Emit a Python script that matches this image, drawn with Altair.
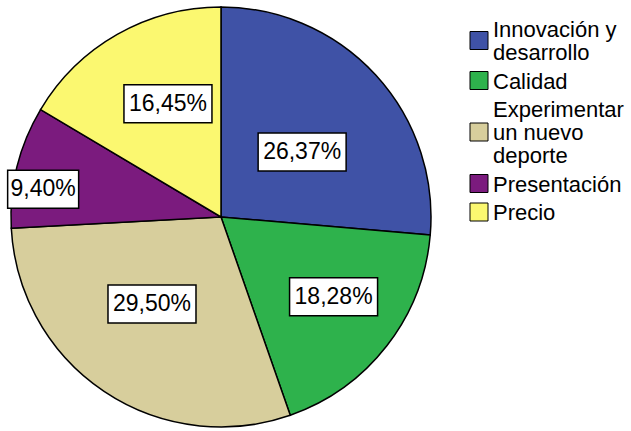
import altair as alt
import pandas as pd

categories = ["Innovación y desarrollo", "Calidad", "Experimentar un nuevo deporte", "Presentación", "Precio"]
legend_lines = [["Innovación y", "desarrollo"], ["Calidad"], ["Experimentar", "un nuevo", "deporte"], ["Presentación"], ["Precio"]]
percent = [26.37, 18.28, 29.50, 9.40, 16.45]
labels = ["26,37%", "18,28%", "29,50%", "9,40%", "16,45%"]
colors = ["#3f52a6", "#2eb24c", "#d7ce9c", "#7b1b7e", "#fbf870"]

# layout (not data): label placement relative to each slice's mid-angle
label_radius = [104, 138, 111, 180, 125]
label_angle_shift = [3.8, -2.5, 4.6, -5.0, 4.5]
CX, CY, R = 221, 217, 210
W, H = 2 * CX, 2 * CY
FONT = "Liberation Sans"
LEG_X, LEG_Y, LEG_LH, LEG_GAP = 470, 37, 23, 5.5

df = pd.DataFrame({
    "cat": categories,
    "pct": percent,
    "label": labels,
    "order": list(range(len(categories))),
    "lr": label_radius,
    "la": label_angle_shift,
    "legtext": ["\n".join(l) for l in legend_lines],
    "nlines": [len(l) for l in legend_lines],
})

color_scale = alt.Scale(domain=categories, range=colors)
base = alt.Chart(df)

pie = base.mark_arc(outerRadius=R, stroke="black", strokeWidth=1.5).encode(
    theta=alt.Theta("pct:Q", stack=True),
    color=alt.Color("cat:N", scale=color_scale, sort=categories, legend=None),
    order=alt.Order("order:Q"),
)

lab = base.transform_window(
    cum="sum(pct)", sort=[alt.SortField("order")], frame=[None, 0]
).transform_calculate(
    mid="(datum.cum - datum.pct / 2) / 100 * 2 * PI + datum.la * PI / 180",
    lx=f"{CX} + datum.lr * sin(datum.mid)",
    ly=f"{CY} - datum.lr * cos(datum.mid)",
    bw="17 * length(datum.label) - 14",
    x0="datum.lx - datum.bw / 2",
    x1="datum.lx + datum.bw / 2",
    y0="datum.ly - 19",
    y1="datum.ly + 19",
)

boxes = lab.mark_rect(fill="white", stroke="black", strokeWidth=1.5).encode(
    x=alt.X("x0:Q", scale=None, axis=None),
    x2="x1:Q",
    y=alt.Y("y0:Q", scale=None, axis=None),
    y2="y1:Q",
)

texts = lab.mark_text(font=FONT, fontSize=23, color="black").encode(
    x=alt.X("lx:Q", scale=None, axis=None),
    y=alt.Y("ly:Q", scale=None, axis=None),
    text="label:N",
)

# legend drawn from the same table
leg = base.transform_window(
    cumlines="sum(nlines)", sort=[alt.SortField("order")], frame=[None, 0]
).transform_calculate(
    start="datum.cumlines - datum.nlines",
    by=f"{LEG_Y} + datum.start * {LEG_LH} + datum.order * {LEG_GAP}",
    sy=f"datum.by + (datum.nlines - 1) * {LEG_LH} / 2 - 8",
    tx=f"{LEG_X + 23}",
    sx=f"{LEG_X + 9}",
)

leg_sym = leg.mark_square(size=18 * 18, stroke="black", strokeWidth=1, opacity=1).encode(
    x=alt.X("sx:Q", scale=None, axis=None),
    y=alt.Y("sy:Q", scale=None, axis=None),
    color=alt.Color("cat:N", scale=color_scale, sort=categories, legend=None),
)

leg_txt = leg.mark_text(
    font=FONT, fontSize=22, color="black", align="left", baseline="alphabetic",
    lineBreak="\n", lineHeight=LEG_LH,
).encode(
    x=alt.X("tx:Q", scale=None, axis=None),
    y=alt.Y("by:Q", scale=None, axis=None),
    text="legtext:N",
)

chart = alt.layer(pie, boxes, texts, leg_sym, leg_txt).properties(
    width=W, height=H,
    padding={"left": 0, "top": 0, "right": 631 - W, "bottom": 0},
    autosize=alt.AutoSizeParams(type="none"),
    background="white",
).configure_view(stroke=None, clip=False)

chart.save("out.html", embed_options={"renderer": "svg", "actions": False})
